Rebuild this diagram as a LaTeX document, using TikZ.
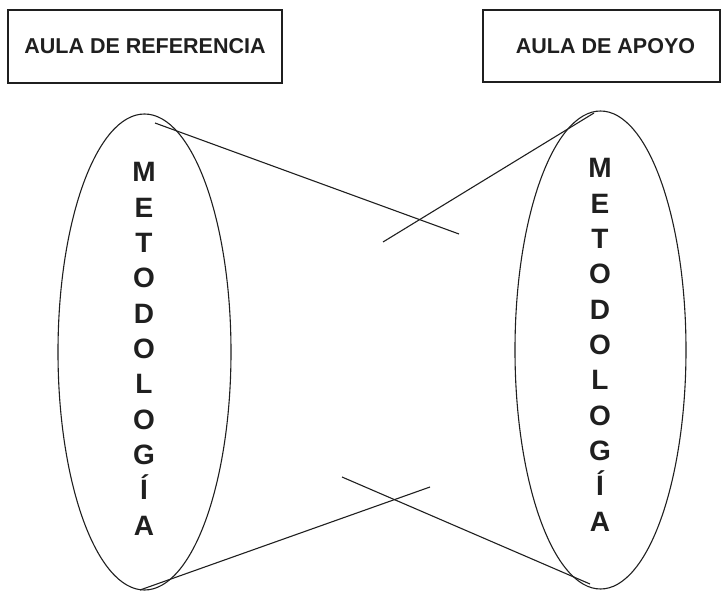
\documentclass[tikz,border=0pt]{standalone}
\usepackage{fontspec}
\setmainfont{Liberation Sans}
\begin{document}
\begin{tikzpicture}[x=1pt,y=-1pt,
  ink/.style={draw=black!88,line width=1.1pt},
  titlebox/.style={ink,rectangle,inner sep=0pt,font=\fontsize{21.5}{24}\selectfont\bfseries,text=black!88},
  letter/.style={inner sep=0pt,anchor=base,font=\fontsize{28}{30}\selectfont\bfseries,text=black!88}]
\useasboundingbox (0,0) rectangle (724,591);
\node[titlebox,minimum width=274pt,minimum height=73pt] (ref) at (145,46.5) {AULA DE REFERENCIA};
\node[titlebox,minimum width=237pt,minimum height=72pt] (apoyo) at (601.5,46) {\hspace*{8pt}AULA DE APOYO};
\draw[ink] (144.5,352) ellipse [x radius=86.5, y radius=238];
\draw[ink] (600.5,350) ellipse [x radius=85.5, y radius=239];
\foreach \l [count=\i] in {M,E,T,O,D,O,L,O,G,Í,A}{
  \node[letter] (left\i) at (144,{182+35.3*(\i-1)}) {\l};
  \node[letter] (right\i) at (600,{178+35.3*(\i-1)}) {\l};
}
\coordinate (a1) at (155,123);
\coordinate (a2) at (459,234);
\coordinate (b1) at (383,242);
\coordinate (b2) at (594,113);
\coordinate (c1) at (140,590);
\coordinate (c2) at (430,487);
\coordinate (d1) at (342,477);
\coordinate (d2) at (590,584);
\draw[ink] (a1) -- (a2);
\draw[ink] (b1) -- (b2);
\draw[ink] (c1) -- (c2);
\draw[ink] (d1) -- (d2);
\end{tikzpicture}
\end{document}
